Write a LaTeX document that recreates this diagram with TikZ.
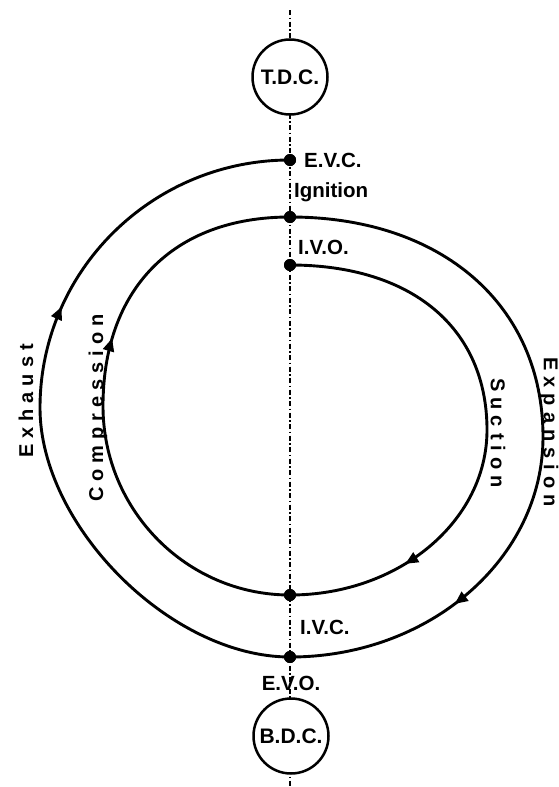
\documentclass[tikz,border=0pt]{standalone}
\usepackage{fontspec}
\setmainfont{Liberation Sans}
\newfontfamily\lsfont{Liberation Sans Bold}[LetterSpace=30]
\usetikzlibrary{arrows.meta,decorations.markings}
\tikzset{
  curve/.style={line width=2.9pt},
  dotnode/.style={circle,fill=black,inner sep=0pt,minimum size=12pt},
  lbl/.style={font=\bfseries\fontsize{20.5}{20.5}\selectfont, inner sep=0pt},
  dc/.style={circle,draw,line width=2.5pt,fill=white,minimum size=75pt,inner sep=0pt,font=\bfseries\fontsize{21}{21}\selectfont},
  vlbl/.style={font=\lsfont\fontsize{20}{20}\selectfont, inner sep=0pt},
  axisline/.style={line width=1.7pt,dash pattern=on 5pt off 2.5pt on 1.5pt off 2.5pt},
  arr/.style={postaction={decorate},decoration={markings,mark=at position #1 with {\arrow{Triangle[length=13pt,width=11pt]}}}}
}
\begin{document}
\begin{tikzpicture}[x=1pt,y=-1pt]
\useasboundingbox (0,0) rectangle (559,787);
% axis
\coordinate (top) at (290,10);
\coordinate (bot) at (290,787);
\draw[axisline] (top) -- (bot);
% junction dots
\node[dotnode] (evc) at (290,160) {};
\node[dotnode] (ign) at (290,217) {};
\node[dotnode] (ivo) at (290,265) {};
\node[dotnode] (ivc) at (290,595) {};
\node[dotnode] (evo) at (290,657) {};
% exhaust (outer left)
\draw[curve,arr=0.63] (evo.center) .. controls (170,657) and (40,525) .. (40,408)
  .. controls (40,271) and (152,160) .. (evc.center);
% compression (inner left)
\draw[curve,arr=0.61] (ivc.center) .. controls (186.8,595) and (103,510.3) .. (103,406)
  .. controls (103,290) and (172,217) .. (ign.center);
% suction (inner right)
\draw[curve,arr=0.79] (ivo.center) .. controls (412,265) and (487,328) .. (487,430)
  .. controls (487,521) and (399,595) .. (ivc.center);
% expansion (outer right)
\draw[curve,arr=0.765] (ign.center) .. controls (441.8,217) and (543,305) .. (543,437)
  .. controls (543,558.4) and (429.7,657) .. (evo.center);
% redraw dots on top
\foreach \n in {evc,ign,ivo,ivc,evo} \fill (\n) circle (6pt);
% TDC / BDC
\node[dc] (tdc) at (290,77) {T.D.C.};
\node[dc] (bdc) at (291,736) {B.D.C.};
% labels
\node[lbl,anchor=west] (tevc) at (304,160) {E.V.C.};
\node[lbl,anchor=west] (tign) at (294,192) {Ignition};
\node[lbl,anchor=west] (tivo) at (298,247) {I.V.O.};
\node[lbl,anchor=west] (tivc) at (300,627) {I.V.C.};
\node[lbl] (tevo) at (291,683) {E.V.O.};
\node[vlbl,rotate=90] (texh) at (26,401) {Exhaust};
\node[vlbl,rotate=90] (tcomp) at (98,408) {Compression};
\node[vlbl,rotate=-90] (tsuc) at (498,433) {Suction};
\node[vlbl,rotate=-90] (texp) at (549,432) {Expansion};
\end{tikzpicture}
\end{document}
